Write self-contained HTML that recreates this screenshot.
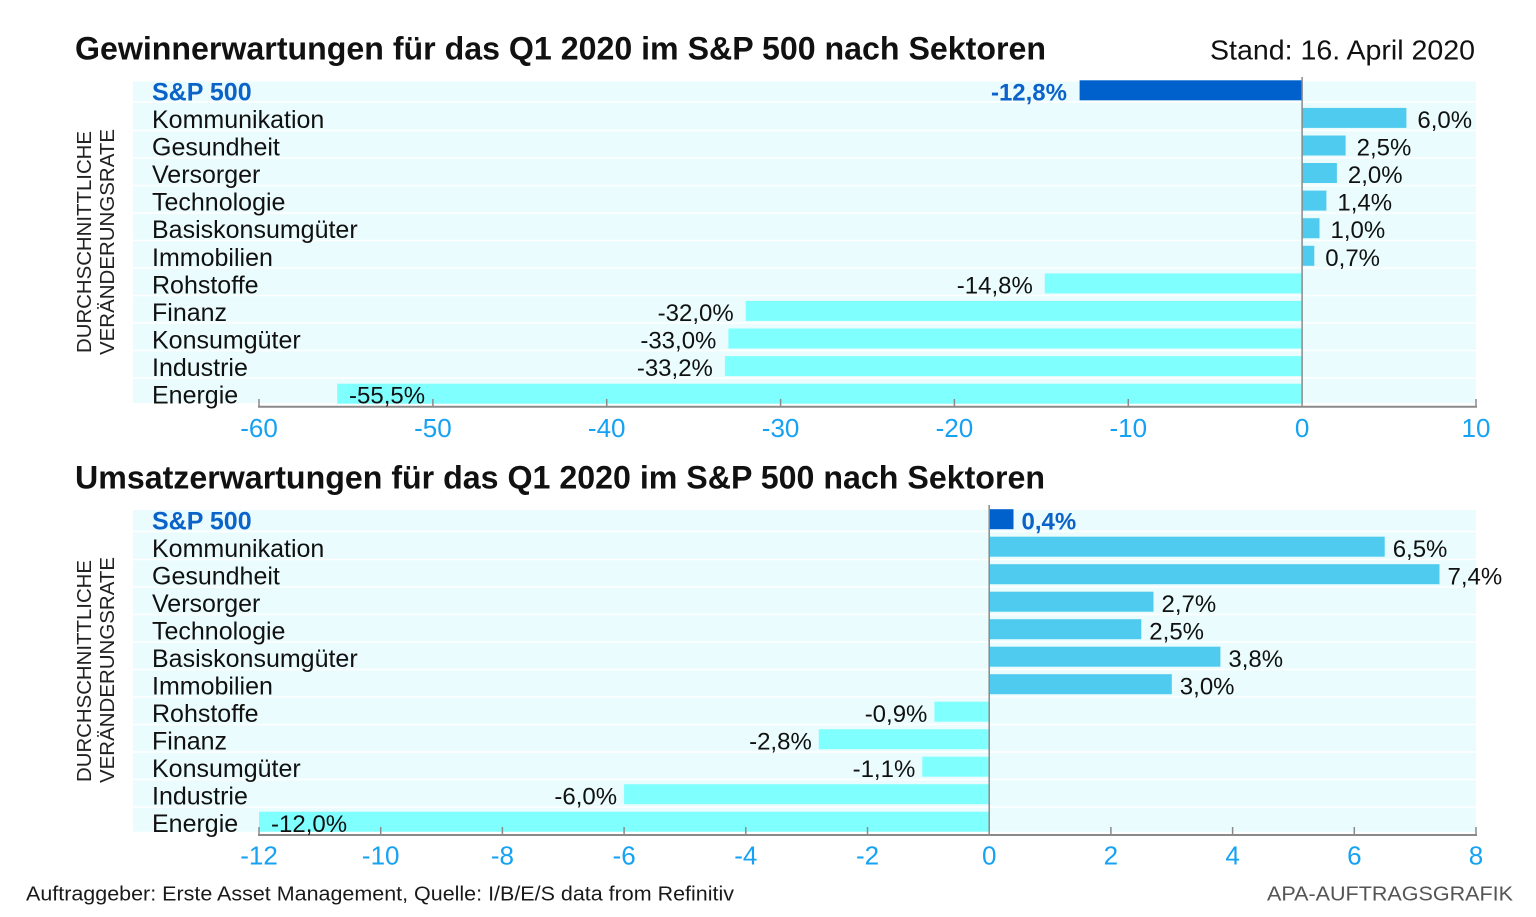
<!DOCTYPE html>
<html>
<head>
<meta charset="utf-8">
<style>
html,body{margin:0;padding:0;background:#fff;}
svg{display:block;}
text{font-family:"Liberation Sans",Arial,sans-serif;}
</style>
</head>
<body>
<svg width="1536" height="917" viewBox="0 0 1536 917" xmlns="http://www.w3.org/2000/svg">
<rect width="1536" height="917" fill="#fff"/>

<!-- ===== TOP CHART ===== -->
<text x="75" y="59.5" font-size="32" font-weight="bold" fill="#111" textLength="971" lengthAdjust="spacingAndGlyphs">Gewinnerwartungen für das Q1 2020 im S&amp;P 500 nach Sektoren</text>
<text x="1475" y="59.5" font-size="28" fill="#111" text-anchor="end" textLength="265" lengthAdjust="spacingAndGlyphs">Stand: 16. April 2020</text>

<rect x="133" y="81.5" width="1343" height="321.5" fill="#eafcfd"/>
<g stroke="#ffffff" stroke-width="1.5">
<line x1="133" x2="1476" y1="102" y2="102"/>
<line x1="133" x2="1476" y1="130.5" y2="130.5"/>
<line x1="133" x2="1476" y1="158" y2="158"/>
<line x1="133" x2="1476" y1="185.5" y2="185.5"/>
<line x1="133" x2="1476" y1="213" y2="213"/>
<line x1="133" x2="1476" y1="240.5" y2="240.5"/>
<line x1="133" x2="1476" y1="268" y2="268"/>
<line x1="133" x2="1476" y1="295.5" y2="295.5"/>
<line x1="133" x2="1476" y1="323" y2="323"/>
<line x1="133" x2="1476" y1="350.5" y2="350.5"/>
<line x1="133" x2="1476" y1="378" y2="378"/>
</g>

<!-- axis title top -->
<text transform="translate(91,242) rotate(-90)" font-size="20.5" fill="#222" text-anchor="middle" textLength="222" lengthAdjust="spacingAndGlyphs">DURCHSCHNITTLICHE</text>
<text transform="translate(114,242) rotate(-90)" font-size="20.5" fill="#222" text-anchor="middle" textLength="226" lengthAdjust="spacingAndGlyphs">VERÄNDERUNGSRATE</text>

<!-- bars top -->
<rect x="1079.6" y="80.3" width="222.5" height="20" fill="#0060cc"/>
<rect x="1302.1" y="107.9" width="104.3" height="20" fill="#4fcbef"/>
<rect x="1302.1" y="135.5" width="43.5" height="20" fill="#4fcbef"/>
<rect x="1302.1" y="163" width="34.8" height="20" fill="#4fcbef"/>
<rect x="1302.1" y="190.6" width="24.3" height="20" fill="#4fcbef"/>
<rect x="1302.1" y="218.2" width="17.4" height="20" fill="#4fcbef"/>
<rect x="1302.1" y="245.8" width="12.2" height="20" fill="#4fcbef"/>
<rect x="1044.8" y="273.4" width="257.3" height="20" fill="#80ffff"/>
<rect x="745.7" y="300.9" width="556.4" height="20" fill="#80ffff"/>
<rect x="728.4" y="328.5" width="573.7" height="20" fill="#80ffff"/>
<rect x="724.9" y="356.1" width="577.2" height="20" fill="#80ffff"/>
<rect x="337.2" y="383.7" width="964.9" height="20" fill="#80ffff"/>

<!-- zero line and axis top -->
<line x1="1302.1" y1="77" x2="1302.1" y2="406.7" stroke="#8a8a8a" stroke-width="1.5"/>
<line x1="258" y1="406.7" x2="1477" y2="406.7" stroke="#8a8a8a" stroke-width="2"/>
<g stroke="#8a8a8a" stroke-width="1.5">
<line x1="259" x2="259" y1="399" y2="406.7"/>
<line x1="432.9" x2="432.9" y1="399" y2="406.7"/>
<line x1="606.7" x2="606.7" y1="399" y2="406.7"/>
<line x1="780.6" x2="780.6" y1="399" y2="406.7"/>
<line x1="954.4" x2="954.4" y1="399" y2="406.7"/>
<line x1="1128.3" x2="1128.3" y1="399" y2="406.7"/>
<line x1="1476" x2="1476" y1="399" y2="406.7"/>
</g>
<g font-size="26" fill="#16a2f3" text-anchor="middle">
<text x="259" y="437">-60</text>
<text x="432.9" y="437">-50</text>
<text x="606.7" y="437">-40</text>
<text x="780.6" y="437">-30</text>
<text x="954.4" y="437">-20</text>
<text x="1128.3" y="437">-10</text>
<text x="1302.1" y="437">0</text>
<text x="1476" y="437">10</text>
</g>

<!-- row labels top -->
<text x="152" y="100.5" font-size="25" font-weight="bold" fill="#0b63c9">S&amp;P 500</text>
<g font-size="25" fill="#111">
<text x="152" y="128">Kommunikation</text>
<text x="152" y="155.5">Gesundheit</text>
<text x="152" y="183">Versorger</text>
<text x="152" y="210.6">Technologie</text>
<text x="152" y="238.2">Basiskonsumgüter</text>
<text x="152" y="265.8">Immobilien</text>
<text x="152" y="293.4">Rohstoffe</text>
<text x="152" y="320.9">Finanz</text>
<text x="152" y="348.5">Konsumgüter</text>
<text x="152" y="376.1">Industrie</text>
<text x="152" y="403.7">Energie</text>
</g>

<!-- value labels top -->
<text x="1067" y="100.5" font-size="24" font-weight="bold" fill="#0b63c9" text-anchor="end">-12,8%</text>
<g font-size="24" fill="#111">
<text x="1417.4" y="128">6,0%</text>
<text x="1356.6" y="155.5">2,5%</text>
<text x="1347.9" y="183">2,0%</text>
<text x="1337.4" y="210.6">1,4%</text>
<text x="1330.5" y="238.2">1,0%</text>
<text x="1325.3" y="265.8">0,7%</text>
<text x="1032.8" y="293.4" text-anchor="end">-14,8%</text>
<text x="733.7" y="320.9" text-anchor="end">-32,0%</text>
<text x="716.4" y="348.5" text-anchor="end">-33,0%</text>
<text x="712.9" y="376.1" text-anchor="end">-33,2%</text>
<text x="349" y="403.7">-55,5%</text>
</g>

<!-- ===== BOTTOM CHART ===== -->
<text x="75" y="488.5" font-size="32" font-weight="bold" fill="#111" textLength="970" lengthAdjust="spacingAndGlyphs">Umsatzerwartungen für das Q1 2020 im S&amp;P 500 nach Sektoren</text>

<rect x="133" y="510" width="1343" height="321.7" fill="#eafcfd"/>
<g stroke="#ffffff" stroke-width="1.5">
<line x1="133" x2="1476" y1="531.5" y2="531.5"/>
<line x1="133" x2="1476" y1="559.5" y2="559.5"/>
<line x1="133" x2="1476" y1="587" y2="587"/>
<line x1="133" x2="1476" y1="614.5" y2="614.5"/>
<line x1="133" x2="1476" y1="642" y2="642"/>
<line x1="133" x2="1476" y1="669.5" y2="669.5"/>
<line x1="133" x2="1476" y1="697" y2="697"/>
<line x1="133" x2="1476" y1="724.5" y2="724.5"/>
<line x1="133" x2="1476" y1="752" y2="752"/>
<line x1="133" x2="1476" y1="779.5" y2="779.5"/>
<line x1="133" x2="1476" y1="807" y2="807"/>
</g>

<text transform="translate(91,671) rotate(-90)" font-size="20.5" fill="#222" text-anchor="middle" textLength="222" lengthAdjust="spacingAndGlyphs">DURCHSCHNITTLICHE</text>
<text transform="translate(114,670) rotate(-90)" font-size="20.5" fill="#222" text-anchor="middle" textLength="226" lengthAdjust="spacingAndGlyphs">VERÄNDERUNGSRATE</text>

<!-- bars bottom -->
<rect x="989.2" y="509.2" width="24.3" height="20" fill="#0060cc"/>
<rect x="989.2" y="536.7" width="395.5" height="20" fill="#4fcbef"/>
<rect x="989.2" y="564.2" width="450.3" height="20" fill="#4fcbef"/>
<rect x="989.2" y="591.7" width="164.3" height="20" fill="#4fcbef"/>
<rect x="989.2" y="619.2" width="152.1" height="20" fill="#4fcbef"/>
<rect x="989.2" y="646.7" width="231.2" height="20" fill="#4fcbef"/>
<rect x="989.2" y="674.2" width="182.6" height="20" fill="#4fcbef"/>
<rect x="934.4" y="701.7" width="54.8" height="20" fill="#80ffff"/>
<rect x="818.8" y="729.2" width="170.4" height="20" fill="#80ffff"/>
<rect x="922.3" y="756.7" width="66.9" height="20" fill="#80ffff"/>
<rect x="624.1" y="784.2" width="365.1" height="20" fill="#80ffff"/>
<rect x="259" y="811.7" width="730.2" height="20" fill="#80ffff"/>

<line x1="989.2" y1="505" x2="989.2" y2="835" stroke="#8a8a8a" stroke-width="1.5"/>
<line x1="258" y1="835" x2="1477" y2="835" stroke="#8a8a8a" stroke-width="2"/>
<g stroke="#8a8a8a" stroke-width="1.5">
<line x1="259" x2="259" y1="827" y2="835"/>
<line x1="380.7" x2="380.7" y1="827" y2="835"/>
<line x1="502.4" x2="502.4" y1="827" y2="835"/>
<line x1="624.1" x2="624.1" y1="827" y2="835"/>
<line x1="745.8" x2="745.8" y1="827" y2="835"/>
<line x1="867.5" x2="867.5" y1="827" y2="835"/>
<line x1="1110.9" x2="1110.9" y1="827" y2="835"/>
<line x1="1232.6" x2="1232.6" y1="827" y2="835"/>
<line x1="1354.3" x2="1354.3" y1="827" y2="835"/>
<line x1="1476" x2="1476" y1="827" y2="835"/>
</g>
<g font-size="26" fill="#16a2f3" text-anchor="middle">
<text x="259" y="864.5">-12</text>
<text x="380.7" y="864.5">-10</text>
<text x="502.4" y="864.5">-8</text>
<text x="624.1" y="864.5">-6</text>
<text x="745.8" y="864.5">-4</text>
<text x="867.5" y="864.5">-2</text>
<text x="989.2" y="864.5">0</text>
<text x="1110.9" y="864.5">2</text>
<text x="1232.6" y="864.5">4</text>
<text x="1354.3" y="864.5">6</text>
<text x="1476" y="864.5">8</text>
</g>

<text x="152" y="529.5" font-size="25" font-weight="bold" fill="#0b63c9">S&amp;P 500</text>
<g font-size="25" fill="#111">
<text x="152" y="557">Kommunikation</text>
<text x="152" y="584.5">Gesundheit</text>
<text x="152" y="612">Versorger</text>
<text x="152" y="639.5">Technologie</text>
<text x="152" y="667">Basiskonsumgüter</text>
<text x="152" y="694.5">Immobilien</text>
<text x="152" y="722">Rohstoffe</text>
<text x="152" y="749.5">Finanz</text>
<text x="152" y="777">Konsumgüter</text>
<text x="152" y="804.5">Industrie</text>
<text x="152" y="832">Energie</text>
</g>

<text x="1021.5" y="529.5" font-size="24" font-weight="bold" fill="#0b63c9">0,4%</text>
<g font-size="24" fill="#111">
<text x="1392.7" y="557">6,5%</text>
<text x="1447.5" y="584.5">7,4%</text>
<text x="1161.5" y="612">2,7%</text>
<text x="1149.3" y="639.5">2,5%</text>
<text x="1228.4" y="667">3,8%</text>
<text x="1179.8" y="694.5">3,0%</text>
<text x="927.4" y="722" text-anchor="end">-0,9%</text>
<text x="811.8" y="749.5" text-anchor="end">-2,8%</text>
<text x="915.3" y="777" text-anchor="end">-1,1%</text>
<text x="617.1" y="804.5" text-anchor="end">-6,0%</text>
<text x="271" y="832">-12,0%</text>
</g>

<!-- footer -->
<text x="26" y="900.5" font-size="20.5" fill="#1a1a1a" textLength="708" lengthAdjust="spacingAndGlyphs">Auftraggeber: Erste Asset Management, Quelle: I/B/E/S data from Refinitiv</text>
<text x="1267" y="900.5" font-size="20.5" fill="#555" textLength="246" lengthAdjust="spacingAndGlyphs">APA-AUFTRAGSGRAFIK</text>
</svg>
</body>
</html>
